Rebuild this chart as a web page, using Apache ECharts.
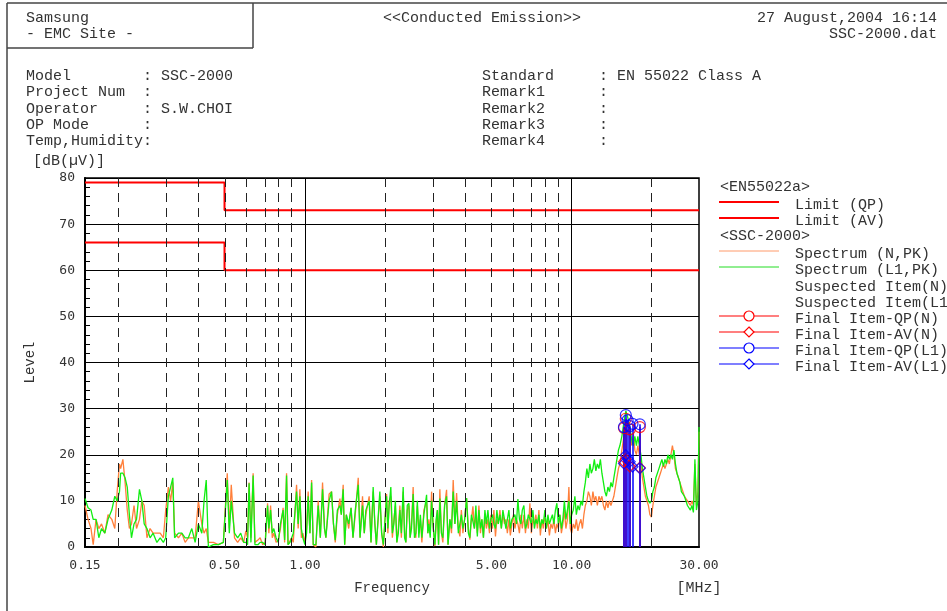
<!DOCTYPE html>
<html>
<head>
<meta charset="utf-8">
<script src="https://cdn.jsdelivr.net/npm/echarts@6/dist/echarts.min.js"></script>
<style>
  html, body { margin: 0; padding: 0; background: #fff; }
  #chart { width: 947px; height: 611px; }
</style>
</head>
<body>
<div id="chart"></div>
<script>
// spectrum sample frequencies [MHz]
const freqMHz = [
  0.150, 0.154, 0.158, 0.161, 0.165, 0.169, 0.173, 0.178, 0.183, 0.189,
  0.194, 0.198, 0.202, 0.204, 0.208, 0.212, 0.216, 0.220, 0.224, 0.229,
  0.234, 0.240, 0.245, 0.250, 0.256, 0.263, 0.270, 0.279, 0.287, 0.295,
  0.301, 0.308, 0.314, 0.320, 0.325, 0.336, 0.346, 0.356, 0.366, 0.377,
  0.388, 0.399, 0.411, 0.419, 0.427, 0.435, 0.454, 0.474, 0.495, 0.512,
  0.521, 0.530, 0.545, 0.560, 0.575, 0.590, 0.601, 0.610, 0.618, 0.628,
  0.640, 0.650, 0.667, 0.680, 0.695, 0.710, 0.725, 0.733, 0.744, 0.755,
  0.765, 0.780, 0.795, 0.810, 0.829, 0.840, 0.854, 0.865, 0.880, 0.892,
  0.905, 0.931, 0.944, 0.958, 0.970, 0.983, 1.000, 1.015, 1.029, 1.045,
  1.060, 1.075, 1.100, 1.122, 1.143, 1.165, 1.185, 1.199, 1.233, 1.259,
  1.280, 1.300, 1.324, 1.353, 1.370, 1.392, 1.410, 1.430, 1.460, 1.490,
  1.515, 1.545, 1.585, 1.610, 1.645, 1.670, 1.693, 1.742, 1.770, 1.803,
  1.830, 1.854, 1.910, 1.940, 1.969, 2.024, 2.047, 2.070, 2.100, 2.128,
  2.156, 2.184, 2.212, 2.240, 2.270, 2.300, 2.336, 2.365, 2.391, 2.420,
  2.454, 2.480, 2.510, 2.546, 2.575, 2.606, 2.640, 2.675, 2.710, 2.745,
  2.793, 2.859, 2.890, 2.916, 2.950, 2.985, 3.030, 3.071, 3.105, 3.138,
  3.170, 3.206, 3.250, 3.290, 3.340, 3.397, 3.440, 3.496, 3.545, 3.597,
  3.650, 3.704, 3.760, 3.811, 3.860, 3.911, 3.970, 4.037, 4.100, 4.154,
  4.210, 4.264, 4.320, 4.375, 4.430, 4.490, 4.550, 4.608, 4.670, 4.729,
  4.790, 4.853, 4.920, 4.980, 5.050, 5.110, 5.180, 5.244, 5.310, 5.383,
  5.450, 5.523, 5.600, 5.668, 5.740, 5.817, 5.890, 5.969, 6.050, 6.126,
  6.210, 6.286, 6.370, 6.451, 6.530, 6.620, 6.710, 6.794, 6.880, 6.972,
  7.060, 7.155, 7.250, 7.342, 7.440, 7.535, 7.630, 7.732, 7.830, 7.935,
  8.040, 8.143, 8.250, 8.356, 8.470, 8.576, 8.690, 8.800, 8.910, 9.031,
  9.150, 9.268, 9.390, 9.512, 9.640, 9.761, 9.880, 10.00, 10.14, 10.28,
  10.41, 10.55, 10.69, 10.83, 10.97, 11.11, 11.25, 11.40, 11.55, 11.70,
  11.85, 12.01, 12.16, 12.32, 12.48, 12.65, 12.81, 12.98, 13.15, 13.32,
  13.49, 13.67, 13.85, 14.03, 14.21, 14.39, 14.58, 14.77, 14.97, 15.16,
  15.42, 15.69, 15.96, 16.24, 16.52, 16.81, 17.03, 17.25, 17.48, 17.70,
  17.93, 18.17, 18.41, 18.65, 18.89, 19.14, 19.39, 19.64, 19.90, 20.15,
  20.41, 20.68, 20.95, 21.23, 21.50, 21.78, 22.07, 22.36, 22.65, 22.94,
  23.24, 23.54, 23.85, 24.16, 24.48, 24.80, 25.12, 25.44, 25.77, 26.11,
  26.45, 26.80, 27.15, 27.50, 27.86, 28.22, 28.59, 28.96, 29.34, 29.72,
  30.00
];
// Spectrum (N,PK) [dB(uV)]
const spectrumN = [
  9, 6, 4, 0.5, 6, 4, 5, 3, 7, 6,
  4, 12, 18, 17, 19, 14, 8, 4, 5, 9,
  4, 6, 10, 9, 2, 4, 3, 3, 3, 2,
  8, 13, 10, 14, 3, 2, 3, 1, 2, 2,
  2, 10, 5, 3, 4, 1, 1, 0.5, 1, 16,
  4, 13.5, 2, 1, 2, 1, 3.5, 2, 14, 2,
  16, 1, 1.5, 2, 0.5, 1, 9.5, 3, 9, 2,
  3, 1, 1.5, 4, 8.5, 1, 16, 0.5, 0.5, 2,
  1, 13.5, 4, 12.5, 2, 3, 1, 4, 12, 3,
  14.5, 0.5, 0, 10, 2, 14, 4, 2, 11.5, 12,
  5, 1, 7, 10.5, 7, 13.5, 0.5, 7, 4, 8.5,
  2, 7, 15, 2, 11, 3, 7, 11, 1, 12,
  5, 0.5, 11, 3, 0, 11.5, 3, 10, 11, 2,
  6, 9, 1, 4, 9, 2, 12, 3, 1, 8,
  9, 2, 5, 13, 3, 2, 9, 3, 6, 1,
  8, 10, 3, 6, 3, 12, 4, 0.2, 5, 8,
  0.5, 12.5, 3, 1, 9, 12.4, 0.5, 6, 3, 14.5,
  5, 11.7, 4, 2.3, 8, 3, 6, 10.6, 4, 1.6,
  6, 8.8, 4, 7, 3, 9, 3, 6, 2, 7,
  4, 6, 3, 7, 4, 8, 2.3, 6, 5, 8,
  4, 7, 5, 6, 3, 6, 2.5, 5, 7, 4,
  6, 5, 3, 7, 4, 7, 3, 6, 4, 9.5,
  3, 6, 5, 7, 4, 8, 2.5, 6, 4, 7,
  4, 6, 2.5, 5, 4, 6, 3, 5, 4, 7,
  3, 5, 8, 4, 6, 13, 4, 3, 5, 4,
  6, 3.5, 5, 6, 4, 7, 9, 10, 12, 11,
  9, 12, 10, 11, 9, 11, 10, 11, 9, 8,
  10, 8.5, 10, 9, 10, 11, 13, 15, 17, 18,
  21, 24, 26, 25, 24, 22, 24.5, 21, 20, 22,
  20, 18, 15, 13, 11, 10, 9, 7, 6.5, 9,
  11, 13, 14, 15, 16, 17, 18, 17, 18, 19,
  18, 20, 22, 20, 17, 17, 15, 14, 13, 12,
  11, 11, 10, 10, 9, 10, 9, 18, 9, 12,
  25
];
// Spectrum (L1,PK) [dB(uV)]
const spectrumL1 = [
  10.5, 8.5, 8, 6, 6, 2, 4, 3, 6, 8,
  11, 10, 12, 16, 16, 15, 13, 7, 2, 5,
  6, 12.5, 10, 5, 4, 2, 3, 1, 2, 1,
  2, 11, 13, 15, 2, 3, 3, 2, 2, 4,
  1, 5, 3, 10, 14.5, 0, 0.5, 0.5, 1, 14.5,
  3, 10, 3, 2, 3, 1, 1, 0.5, 13.8, 1,
  15.5, 0.5, 0.5, 1, 1, 0.5, 9, 4, 8, 3,
  4, 2, 1, 5, 8, 1.5, 15.5, 0.5, 1, 1,
  3, 12, 5, 11, 4, 2, 0.5, 3, 11, 3,
  14, 0.5, 0.5, 9, 2, 12.5, 4, 2, 10, 12,
  5, 1.5, 8, 9, 7, 12.5, 0.5, 7, 5, 8.5,
  2, 8, 13.5, 2, 9, 3, 8, 10, 1, 13,
  5, 0.5, 12, 3, 0.5, 11, 4, 9, 13, 3,
  5, 10, 1, 3, 8, 3, 13, 2, 1, 9,
  9.5, 2, 4, 11.5, 2, 3, 10, 2, 7, 2,
  7, 11.3, 3, 5, 2, 10, 4, 0.5, 6, 8,
  0.5, 10.5, 3, 2, 9, 11, 0.5, 6, 4, 12,
  5, 10, 3, 3, 7, 4, 6, 10.6, 3, 2,
  7, 7, 4, 9, 2.3, 8, 4, 6, 2, 8,
  5, 8, 4, 6, 7, 5, 4, 8, 5, 7,
  4, 8, 6, 4, 6, 8, 4, 6, 6, 7,
  5, 10.4, 6, 5, 8, 9, 4, 5, 7, 6,
  5, 8, 4, 6, 5, 7, 4, 6, 5, 8,
  4, 7, 5, 6, 7, 5, 8, 9.5, 5, 7,
  4, 6, 10, 6, 8, 10, 5, 7, 8, 11,
  7, 9, 8, 10, 9, 12, 14, 17, 15, 18,
  16, 17, 19, 16.5, 18, 17, 19, 16, 14, 12,
  11, 13, 12, 14, 13, 15, 17, 19, 21, 22,
  24, 27, 29.5, 28, 26, 23, 22, 24, 22, 24,
  22, 20, 17, 15, 13, 11, 10, 9.5, 10, 12,
  13, 15, 16, 17, 18, 19, 17.5, 19, 18, 20,
  19, 20, 19, 21, 18, 16, 16, 14, 12, 12,
  11, 10, 9, 9, 8, 9, 7.5, 19, 8, 10,
  26
];

// EN55022 class A limits
const limitFreq = [0.15, 0.5, 0.5, 30];
const limitQp = [79, 79, 73, 73];
const limitAv = [66, 66, 60, 60];

// final measured items
const finalFreqN = [15.7, 15.95, 16.5, 18.0];
const finalQpN = [25.8, 27.8, 25.5, 26.0];
const finalAvN = [18.5, 19.0, 17.5, 17.2];
const finalFreqL1 = [15.7, 15.95, 16.2, 16.5, 16.9, 18.0];
const finalQpL1 = [26.0, 28.6, 27.5, 26.2, 26.7, 26.6];
const finalAvL1 = [18.1, 19.9, 19.2, 18.5, 17.4, 17.1];

// axis
const xLabelFreqs = [0.15, 0.5, 1, 5, 10, 30];
const solidGridFreqs = [1, 10];
const dashedGridFreqs = [0.2, 0.3, 0.4, 0.5, 0.6, 0.7, 0.8, 0.9, 2, 3, 4, 5, 6, 7, 8, 9, 20];

const MONO = '"Liberation Mono", "DejaVu Sans Mono", monospace';
const TICK_FONT = '"DejaVu Sans Mono", monospace';
const lg = Math.log10;
const pts = (fs, vs) => fs.map((f, i) => [lg(f), vs[i]]);

const txt = (x, y, text, align) => ({
  type: "text",
  silent: true,
  style: {
    x, y, text,
    font: '15px ' + MONO,
    fill: "#333",
    textAlign: align || "left",
    textVerticalAlign: "middle",
  },
});
const ln = (x1, y1, x2, y2, stroke, w) => ({
  type: "line",
  silent: true,
  shape: { x1, y1, x2, y2 },
  style: { stroke, lineWidth: w || 1 },
});
const diamond = (cx, cy, stroke) => ({
  type: "polygon",
  silent: true,
  shape: { points: [[cx, cy - 5], [cx + 5, cy], [cx, cy + 5], [cx - 5, cy]] },
  style: { fill: "#fff", stroke, lineWidth: 1.2 },
});
const ring = (cx, cy, stroke) => ({
  type: "circle",
  silent: true,
  shape: { cx, cy, r: 5 },
  style: { fill: "#fff", stroke, lineWidth: 1.2 },
});

const graphics = [
  // page frame + header box
  ln(7, 3, 947, 3, "#444", 1.5),
  ln(7, 3, 7, 611, "#444", 1.5),
  ln(253, 3, 253, 48, "#444", 1.5),
  ln(7, 48, 253, 48, "#444", 1.5),
  txt(26, 18, "Samsung"),
  txt(26, 34, "- EMC Site -"),
  txt(482, 18, "<<Conducted Emission>>", "center"),
  txt(937, 18, "27 August,2004 16:14", "right"),
  txt(937, 34, "SSC-2000.dat", "right"),
  txt(26, 76, "Model        : SSC-2000"),
  txt(26, 92, "Project Num  :"),
  txt(26, 109, "Operator     : S.W.CHOI"),
  txt(26, 125, "OP Mode      :"),
  txt(26, 141, "Temp,Humidity:"),
  txt(482, 76, "Standard     : EN 55022 Class A"),
  txt(482, 92, "Remark1      :"),
  txt(482, 109, "Remark2      :"),
  txt(482, 125, "Remark3      :"),
  txt(482, 141, "Remark4      :"),
  txt(33, 161, "[dB(\u00b5V)]"),
  txt(699, 588, "[MHz]", "center"),
  // legend
  txt(720, 187, "<EN55022a>"),
  ln(719, 202, 779, 202, "#f00", 2),
  txt(795, 205, "Limit (QP)"),
  ln(719, 218, 779, 218, "#f00", 2),
  txt(795, 221, "Limit (AV)"),
  txt(720, 236, "<SSC-2000>"),
  ln(719, 251, 779, 251, "#ff9a6a", 1),
  txt(795, 254, "Spectrum (N,PK)"),
  ln(719, 267, 779, 267, "#22dd22", 1),
  txt(795, 270, "Spectrum (L1,PK)"),
  txt(795, 287, "Suspected Item(N)"),
  txt(795, 303, "Suspected Item(L1)"),
  ln(719, 316, 779, 316, "#f00", 1.2),
  ring(749, 316, "#f00"),
  txt(795, 319, "Final Item-QP(N)"),
  ln(719, 332, 779, 332, "#f00", 1.2),
  diamond(749, 332, "#f00"),
  txt(795, 335, "Final Item-AV(N)"),
  ln(719, 348, 779, 348, "#00f", 1.2),
  ring(749, 348, "#00f"),
  txt(795, 351, "Final Item-QP(L1)"),
  ln(719, 364, 779, 364, "#00f", 1.2),
  diamond(749, 364, "#00f"),
  txt(795, 367, "Final Item-AV(L1)"),
];

const finalStems = (fs, qps, color) => ({
  silent: true,
  symbol: "none",
  label: { show: false },
  lineStyle: { color, width: 1.5, type: "solid" },
  data: fs.map((f, i) => [{ coord: [lg(f), 0] }, { coord: [lg(f), qps[i]] }]),
});

const chart = echarts.init(document.getElementById("chart"));
chart.setOption({
  animation: false,
  backgroundColor: "#fff",
  grid: {
    left: 85, top: 178, right: 248, bottom: 64,
    show: true, borderColor: "#000", borderWidth: 1.5,
  },
  xAxis: {
    type: "value",
    min: lg(0.15),
    max: lg(30),
    axisLine: { onZero: false, lineStyle: { color: "#000", width: 2 } },
    axisTick: { show: false },
    splitLine: { show: false },
    axisLabel: {
      customValues: xLabelFreqs.map(lg),
      formatter: (v) => Math.pow(10, v).toFixed(2),
      color: "#333",
      fontFamily: TICK_FONT,
      fontSize: 13,
      margin: 12,
    },
    name: "Frequency",
    nameLocation: "middle",
    nameGap: 34,
    nameTextStyle: { fontFamily: MONO, fontSize: 14, color: "#333" },
  },
  yAxis: {
    type: "value",
    min: 0,
    max: 80,
    interval: 10,
    axisLine: { show: true, onZero: false, lineStyle: { color: "#000", width: 2 } },
    axisTick: { show: true, inside: true, length: 5, lineStyle: { color: "#000" } },
    minorTick: { show: true, splitNumber: 5, length: 5, lineStyle: { color: "#000" } },
    splitLine: { lineStyle: { color: "#000", width: 1 } },
    axisLabel: { color: "#333", fontFamily: TICK_FONT, fontSize: 13, margin: 10 },
    name: "Level",
    nameLocation: "middle",
    nameRotate: 90,
    nameGap: 48,
    nameTextStyle: { fontFamily: MONO, fontSize: 14, color: "#333" },
  },
  graphic: graphics,
  series: [
    {
      // vertical grid lines
      type: "line",
      data: [],
      z: 1,
      markLine: {
        silent: true,
        symbol: "none",
        label: { show: false },
        data: [
          ...dashedGridFreqs.map((f) => ({
            xAxis: lg(f),
            lineStyle: { color: "#222", width: 1, type: [9, 6] },
          })),
          ...solidGridFreqs.map((f) => ({
            xAxis: lg(f),
            lineStyle: { color: "#000", width: 1, type: "solid" },
          })),
        ],
      },
    },
    {
      name: "Limit (QP)",
      type: "line",
      z: 2,
      showSymbol: false,
      data: pts(limitFreq, limitQp),
      lineStyle: { color: "#f00", width: 2 },
    },
    {
      name: "Limit (AV)",
      type: "line",
      z: 2,
      showSymbol: false,
      data: pts(limitFreq, limitAv),
      lineStyle: { color: "#f00", width: 2 },
    },
    {
      name: "Spectrum (N,PK)",
      type: "line",
      z: 3,
      showSymbol: false,
      data: pts(freqMHz, spectrumN),
      lineStyle: { color: "#ff7f3a", width: 1.3 },
    },
    {
      name: "Spectrum (L1,PK)",
      type: "line",
      z: 4,
      showSymbol: false,
      data: pts(freqMHz, spectrumL1),
      lineStyle: { color: "#11ee11", width: 1.3 },
    },
    {
      name: "Final Item-QP(N)",
      type: "scatter",
      z: 5,
      symbol: "circle",
      symbolSize: 11,
      data: pts(finalFreqN, finalQpN),
      itemStyle: { color: "transparent", borderColor: "#f00", borderWidth: 1.2 },
      markLine: finalStems(finalFreqN, finalQpN, "#f00"),
    },
    {
      name: "Final Item-AV(N)",
      type: "scatter",
      z: 5,
      symbol: "diamond",
      symbolSize: 11,
      data: pts(finalFreqN, finalAvN),
      itemStyle: { color: "transparent", borderColor: "#f00", borderWidth: 1.2 },
    },
    {
      name: "Final Item-QP(L1)",
      type: "scatter",
      z: 6,
      symbol: "circle",
      symbolSize: 11,
      data: pts(finalFreqL1, finalQpL1),
      itemStyle: { color: "transparent", borderColor: "#00f", borderWidth: 1.2 },
      markLine: finalStems(finalFreqL1, finalQpL1, "#00f"),
    },
    {
      name: "Final Item-AV(L1)",
      type: "scatter",
      z: 6,
      symbol: "diamond",
      symbolSize: 11,
      data: pts(finalFreqL1, finalAvL1),
      itemStyle: { color: "transparent", borderColor: "#00f", borderWidth: 1.2 },
    },
  ],
});
</script>
</body>
</html>
